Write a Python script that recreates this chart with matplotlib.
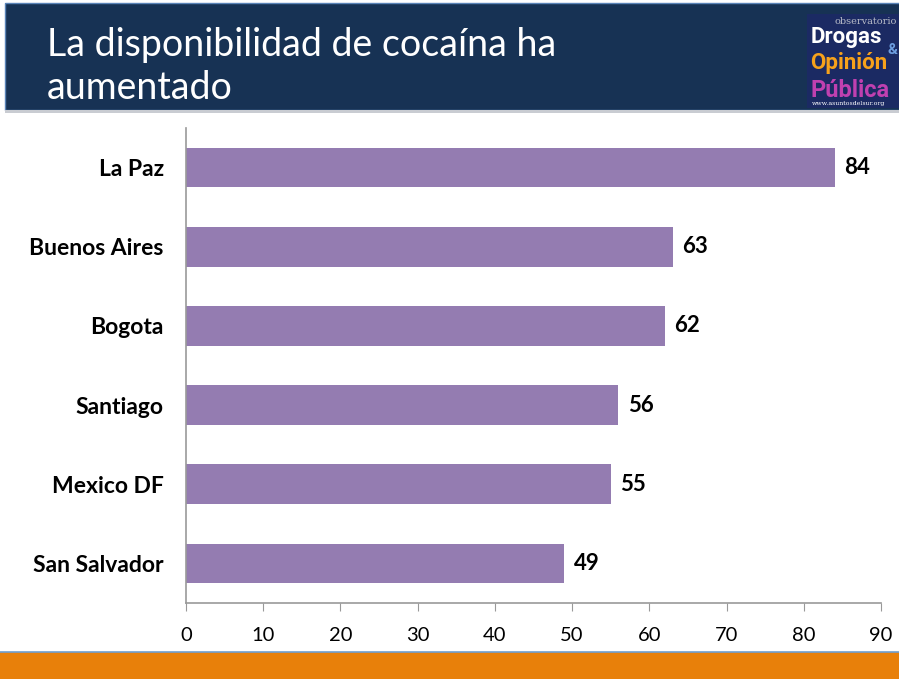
import matplotlib.pyplot as plt
from matplotlib.patches import Rectangle

# data
cities = ['La Paz', 'Buenos Aires', 'Bogota', 'Santiago', 'Mexico DF', 'San Salvador']
values = [84, 63, 62, 56, 55, 49]
xticks = [0, 10, 20, 30, 40, 50, 60, 70, 80, 90]

W, H = 899, 679
fig = plt.figure(figsize=(W / 100, H / 100), dpi=100)
plt.rcParams['font.family'] = ['Lato', 'DejaVu Sans']

def fx(px):
    return px / W

def fy(py):
    return 1 - py / H

# title band
bg = fig.add_axes([0, 0, 1, 1])
bg.set_xlim(0, W)
bg.set_ylim(H, 0)
bg.axis('off')
bg.add_patch(Rectangle((5, 3), W, 107, facecolor='#173254', edgecolor='#5a84b8', lw=1))
bg.add_patch(Rectangle((5, 110), W, 3, facecolor='#c9ccd2', edgecolor='none'))
bg.text(47, 45, 'La disponibilidad de cocaína ha', color='white', fontsize=27, va='center')
bg.text(47, 88, 'aumentado', color='white', fontsize=27, va='center')

# logo
logo = ['Roboto', 'DejaVu Sans']
bg.add_patch(Rectangle((807, 14), 95, 94, facecolor='#1b2a63', edgecolor='none'))
bg.text(897, 21, 'observatorio', color='#b8bcc8', fontsize=7, ha='right', va='center',
        family='DejaVu Serif')
bg.text(811, 43, 'Drogas', color='white', fontsize=16, weight='bold', va='baseline',
        family=logo)
bg.text(897, 50, '&', color='#6d9ee0', fontsize=11, weight='bold', va='center', ha='right',
        family=logo)
bg.text(810, 69, 'Opinión', color='#f7a21b', fontsize=16, weight='bold', va='baseline',
        family=logo)
bg.text(810, 97, 'Pública', color='#c040b0', fontsize=17, weight='bold', va='baseline',
        family=logo)
bg.text(812, 104, 'www.asuntosdelsur.org', color='white', fontsize=4.5, va='center',
        family='DejaVu Serif')

# bottom band
bg.add_patch(Rectangle((0, 652), W, 30, facecolor='#e8800a', edgecolor='none'))
bg.plot([0, W], [651.5, 651.5], color='#6f9fd0', lw=1.2)

# chart
ax = fig.add_axes([fx(186), fy(603), fx(881) - fx(186), fy(128) - fy(603)])
y = list(range(len(cities)))
ax.barh(y, values, height=0.5, color='#947cb1')
ax.set_ylim(len(cities) - 0.5, -0.5)
ax.set_xlim(0, 90)
ax.set_xticks(xticks)
ax.set_xticklabels([str(t) for t in xticks], fontsize=14.5)
ax.set_yticks(y)
ax.set_yticklabels(cities, fontsize=16.5, weight='bold')
ax.tick_params(axis='y', length=0, pad=16)
ax.tick_params(axis='x', length=6, color='#999999', pad=11)
for s in ['top', 'right']:
    ax.spines[s].set_visible(False)
for s in ['left', 'bottom']:
    ax.spines[s].set_color('#999999')
    ax.spines[s].set_linewidth(1.2)
ax.set_facecolor('none')
for yi, v in zip(y, values):
    ax.text(v + 1.2, yi, str(v), va='center', ha='left', fontsize=16, weight='bold')

fig.savefig('out.png', dpi=100)
